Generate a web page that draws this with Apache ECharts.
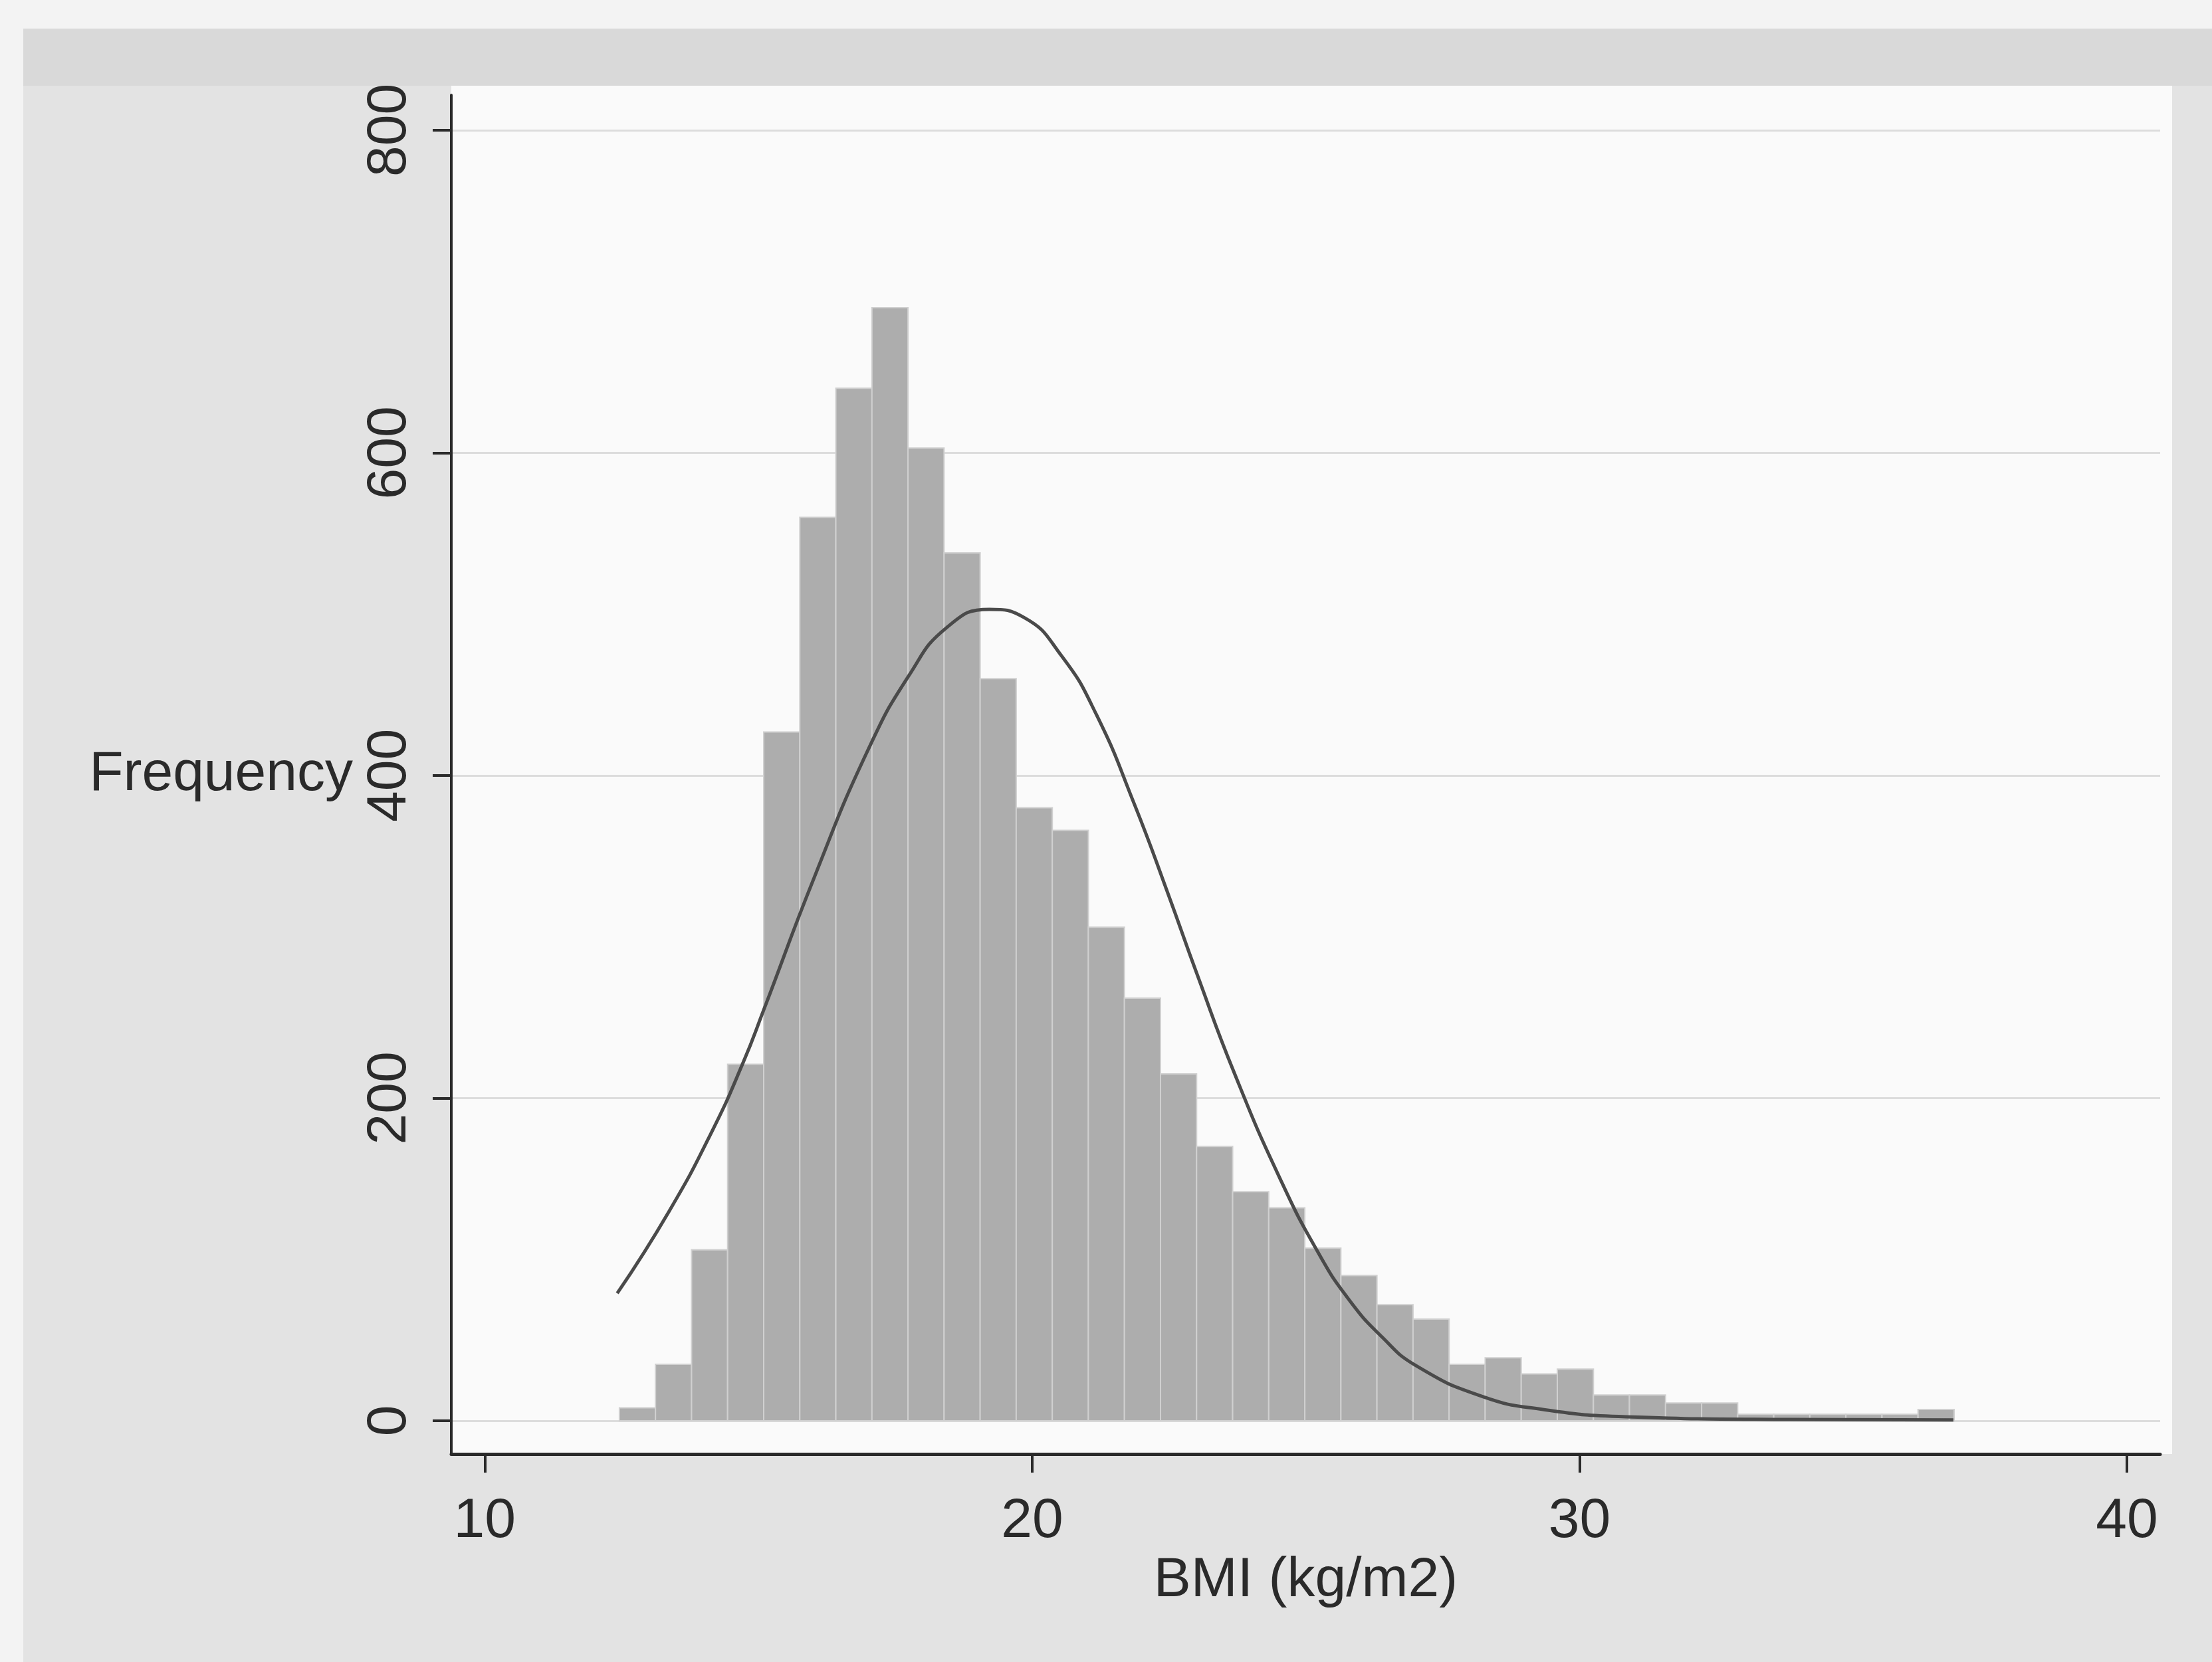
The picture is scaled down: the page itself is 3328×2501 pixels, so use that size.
<!DOCTYPE html>
<html>
<head>
<meta charset="utf-8">
<script src="https://cdn.jsdelivr.net/npm/echarts@6/dist/echarts.min.js"></script>
<style>
html,body{margin:0;padding:0;background:#f3f3f3;}
#chart{width:3328px;height:2501px;}
</style>
</head>
<body>
<div id="chart"></div>
<script>
// Histogram bins (Stata-style): start and width in BMI units
const binStart = 12.46;
const binWidth = 0.659;
// Frequency in each bin
const frequencies = [8, 35, 106, 221, 427, 560, 640, 690, 603, 538,
                     460, 380, 366, 306, 262, 215, 170, 142, 132, 107,
                     90, 72, 63, 35, 39, 29, 32, 16, 16, 11,
                     11, 4, 4, 4, 4, 4, 7];
// Overlaid normal curve
const curveX = [12.42, 13.37, 14.16, 14.72, 15.1, 16.01, 16.99, 17.75, 18.45, 19.22,
                19.85, 20.54, 21.17, 21.87, 22.49, 23.0, 23.7, 24.53, 25.23, 25.79,
                26.39, 27.02, 28.23, 29.33, 30.85, 33.86, 36.83];
const curveY = [79, 130, 180, 222, 255, 336, 415, 462, 492, 503,
                498, 474, 438, 382, 326, 278, 215, 150, 104, 75,
                52, 34, 15, 7, 2.5, 0.8, 0.5];
// Tick labels
const xTicks = [10, 20, 30, 40];
const yTicks = [0, 200, 400, 600, 800];

const histData = frequencies.map((f, i) => [binStart + i * binWidth, binStart + (i + 1) * binWidth, f]);
const curveData = curveX.map((x, i) => [x, curveY[i]]);

const FONT = "'Liberation Sans', Arial, Helvetica, sans-serif";
const chart = echarts.init(document.getElementById('chart'));
chart.setOption({
  backgroundColor: '#f3f3f3',
  animation: false,
  graphic: [
    {type: 'rect', z: -100, shape: {x: 35, y: 43, width: 3293, height: 2458}, style: {fill: '#e3e3e3'}},
    {type: 'rect', z: -99, shape: {x: 35, y: 43, width: 3293, height: 86}, style: {fill: '#d9d9d9'}},
    {type: 'rect', z: -98, shape: {x: 679, y: 129, width: 2589, height: 2059}, style: {fill: '#fafafa'}}
  ],
  grid: {left: 679, right: 78, top: 143, bottom: 313, containLabel: false},
  xAxis: {
    type: 'value', min: 9.389, max: 40.607,
    axisLine: {onZero: false, lineStyle: {color: '#2a2a2a', width: 5}},
    axisTick: {customValues: xTicks, length: 28, lineStyle: {color: '#2a2a2a', width: 4}},
    axisLabel: {customValues: xTicks, fontSize: 84, color: '#2a2a2a', fontFamily: FONT, margin: 60},
    splitLine: {show: false},
    name: 'BMI (kg/m2)', nameLocation: 'middle', nameGap: 128,
    nameTextStyle: {fontSize: 84, color: '#2a2a2a', fontFamily: FONT}
  },
  yAxis: {
    type: 'value', min: -20.6, max: 821.8,
    axisLine: {show: true, onZero: false, lineStyle: {color: '#2a2a2a', width: 4}},
    axisTick: {show: true, customValues: yTicks, length: 28, lineStyle: {color: '#2a2a2a', width: 4}},
    axisLabel: {customValues: yTicks, rotate: 90, fontSize: 84, color: '#2a2a2a', fontFamily: FONT, margin: 50},
    splitLine: {show: true, lineStyle: {color: '#dcdcdc', width: 3}},
    name: 'Frequency', nameLocation: 'middle', nameRotate: 0, nameGap: 148,
    nameTextStyle: {fontSize: 84, color: '#2a2a2a', fontFamily: FONT, align: 'right', verticalAlign: 'middle'}
  },
  series: [
    {
      type: 'custom',
      data: histData,
      encode: {x: [0, 1], y: 2},
      renderItem: function (params, api) {
        const p0 = api.coord([api.value(0), 0]);
        const p1 = api.coord([api.value(1), api.value(2)]);
        return {
          type: 'rect',
          shape: {x: p0[0], y: p1[1], width: p1[0] - p0[0], height: p0[1] - p1[1]},
          style: {fill: '#adadad', stroke: '#d0d0d0', lineWidth: 2}
        };
      },
      z: 2
    },
    {
      type: 'line',
      data: curveData,
      smooth: 0.5,
      showSymbol: false,
      lineStyle: {color: '#4a4a4a', width: 5},
      z: 3
    }
  ]
});
</script>
</body>
</html>
